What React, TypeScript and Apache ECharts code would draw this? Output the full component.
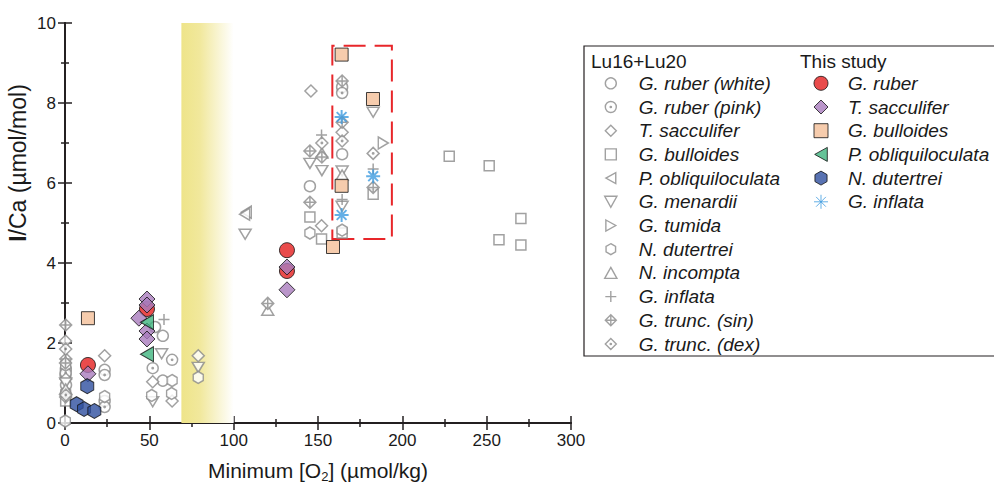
import React, { useEffect, useRef } from 'react';
import * as echarts from 'echarts';

const FONT = '"Liberation Sans", Arial, Helvetica, sans-serif';
const GRAY = '#8a8a8a';
const AXIS = '#231f20';

// ---- symbols ----
const P_DIAMOND = 'path://M5,0L10,5L5,10L0,5Z';
const P_SQUARE = 'path://M0,0L10,0L10,10L0,10Z';
const P_TRI_LEFT = 'path://M0,5L9,0L9,10Z';
const P_TRI_DOWN = 'path://M0,0L10,0L5,9Z';
const P_TRI_UP = 'path://M5,0L10,9L0,9Z';
const P_TRI_RIGHT = 'path://M0,0L9,5L0,10Z';
const P_HEX = 'path://M5,0L9.33,2.5L9.33,7.5L5,10L0.67,7.5L0.67,2.5Z';
const P_PLUS = 'path://M5,0L5,10M0,5L10,5';
const P_DIAMOND_CROSS = 'path://M5,0L10,5L5,10L0,5ZM5,0L5,10M0,5L10,5';
const P_DIAMOND_DOT = 'path://M5,0L10,5L5,10L0,5ZM4.4,5A0.6,0.6,0,1,0,5.6,5A0.6,0.6,0,1,0,4.4,5Z';
const P_CIRCLE_DOT = 'path://M0,5A5,5,0,1,0,10,5A5,5,0,1,0,0,5ZM4.4,5A0.6,0.6,0,1,0,5.6,5A0.6,0.6,0,1,0,4.4,5Z';
const P_ASTER = 'path://M5,0L5,10M0,5L10,5M1.5,1.5L8.5,8.5M1.5,8.5L8.5,1.5';

// ---- axis ticks ----
const X_MIN = 0, X_MAX = 300, X_STEP = 50;
const Y_MIN = 0, Y_MAX = 10, Y_STEP = 2;

// ---- Lu16+Lu20 data [min O2, I/Ca] ----
const luRuberWhite: number[][] = [[0.5,1.35],[0.3,1.2],[0.6,0.95],[23.5,1.33],[23.5,0.55],[53.4,2.4],[58,2.18],[58,1.06],[145.2,5.92],[164.3,8.4],[164.3,6.72]];
const luRuberPink: number[][] = [[0.4,1.25],[23.5,1.2],[23.5,0.4],[63.5,1.58],[52,1.37],[164.3,8.25]];
const luSacculifer: number[][] = [[0.3,2.05],[0.5,1.1],[23.5,1.68],[52,1.03],[63.5,0.55],[79,1.68],[145.8,8.3],[152.1,4.93],[164.3,7.27]];
const luBulloides: number[][] = [[0.4,0.55],[145.2,5.15],[152.1,4.6],[164.3,4.75],[182.7,5.72],[227.8,6.67],[251.5,6.43],[270.3,5.11],[257.3,4.58],[270.3,4.45]];
const luObliq: number[][] = [[107.5,5.27],[106.5,5.22]];
const luMenardii: number[][] = [[0.4,1.0],[57.3,1.73],[52,0.53],[79,1.39],[106.8,4.72],[145.2,6.49],[152.3,6.31],[164.3,6.3],[164.3,5.42],[182.7,7.77]];
const luTumida: number[][] = [[188.7,7.0]];
const luDutertrei: number[][] = [[0.4,1.45],[0.4,0.75],[0.2,0.05],[23.5,0.66],[51.4,0.69],[63.5,1.06],[63.2,0.74],[79,1.14],[145.2,4.75],[164.3,4.82]];
const luIncompta: number[][] = [[0.4,0.85],[120.2,2.82],[164.3,6.2],[152.3,6.75]];
const luInflata: number[][] = [[58.7,2.59],[152.1,7.2],[164.3,5.59],[182.7,6.35]];
const luTruncSin: number[][] = [[0.4,2.45],[0.5,1.6],[0.3,1.5],[0.4,0.65],[120.2,2.99],[145.2,6.8],[152.3,6.65],[145.2,5.52],[164.3,8.55],[164.3,7.52],[182.7,5.89]];
const luTruncDex: number[][] = [[0.4,1.85],[0.5,0.7],[152.3,7.0],[164.3,7.05],[182.7,6.74]];

// ---- This study ----
const tsRuber: number[][] = [[13.6,1.45],[48.6,2.85],[131.6,4.32],[131.6,3.8]];
const tsSacculifer: number[][] = [[13.6,1.23],[48.6,3.1],[48.6,2.95],[43.8,2.62],[48.6,2.3],[48.6,2.1],[131.6,3.9],[131.6,3.33]];
const tsBulloides: number[][] = [[13.6,2.62],[164,9.21],[164,5.93],[182.6,8.1],[158.9,4.4]];
const tsObliq: number[][] = [[48.6,2.52],[48.6,1.72]];
const tsDutertrei: number[][] = [[13.2,0.92],[6.9,0.47],[11.3,0.35],[17.4,0.3]];
const tsInflata: number[][] = [[164,7.65],[164,5.2],[182.7,6.17]];

// ---- shaded band and highlighted box ----
const bandX = [69, 100];
const boxX = [158.5, 193.8];
const boxY = [4.6, 9.43];

const lu = (name: string, data: number[][], symbol: string, size: number | number[]) => ({
  name, type: 'scatter', data, symbol, symbolSize: size, z: 3,
  itemStyle: { color: '#ffffff', borderColor: GRAY, borderWidth: 1.5 },
});
const ts = (name: string, data: number[][], symbol: string, size: number | number[], color: string, border = '#111111', bw = 1) => ({
  name, type: 'scatter', data, symbol, symbolSize: size, z: 5,
  itemStyle: { color, borderColor: border, borderWidth: bw },
});

export default function App() {
  const ref = useRef<HTMLDivElement>(null);
  useEffect(() => {
    if (!ref.current) return;
    const chart = echarts.init(ref.current, undefined, { renderer: 'svg' });
    const axisCommon = {
      type: 'value',
      axisLine: { show: true, lineStyle: { color: AXIS, width: 1.8 } },
      axisTick: { show: true, inside: true, length: 7, lineStyle: { color: AXIS, width: 1.5 } },
      minorTick: { show: true, splitNumber: 2, length: 4, lineStyle: { color: AXIS, width: 1.5 } },
      splitLine: { show: false },
    };
    const labelStyle = { fontFamily: FONT, fontSize: 17, color: '#1a1a1a' };
    const leftNames = ['G. ruber (white)', 'G. ruber (pink)', 'T. sacculifer', 'G. bulloides', 'P. obliquiloculata', 'G. menardii', 'G. tumida', 'N. dutertrei', 'N. incompta', 'G. inflata', 'G. trunc. (sin)', 'G. trunc. (dex)'];
    const rightNames = ['G. ruber', 'T. sacculifer*', 'G. bulloides*', 'P. obliquiloculata*', 'N. dutertrei*', 'G. inflata*'];
    const legendText = { fontFamily: FONT, fontSize: 19, fontStyle: 'italic', color: '#1a1a1a', lineHeight: 20 };
    chart.setOption({
      animation: false,
      grid: { left: 65, width: 506, top: 23, height: 405 },
      xAxis: [
        {
          ...axisCommon, position: 'bottom', min: X_MIN, max: X_MAX, interval: X_STEP,
          axisLabel: { ...labelStyle, margin: 9 },
          name: '{n|Minimum [O}{s|2}{n|] (µmol/kg)}', nameLocation: 'middle', nameGap: 34,
          nameTextStyle: {
            fontFamily: FONT, color: '#1a1a1a', fontSize: 21,
            rich: {
              n: { fontFamily: FONT, fontSize: 21, color: '#1a1a1a', lineHeight: 26, verticalAlign: 'middle' },
              s: { fontFamily: FONT, fontSize: 13, color: '#1a1a1a', lineHeight: 13, verticalAlign: 'bottom' },
            },
          },
        },
        { ...axisCommon, position: 'top', min: X_MIN, max: X_MAX, interval: X_STEP, axisLabel: { show: false } },
      ],
      yAxis: [
        { ...axisCommon, position: 'left', min: Y_MIN, max: Y_MAX, interval: Y_STEP, axisLabel: { ...labelStyle, margin: 9 } },
        { ...axisCommon, position: 'right', min: Y_MIN, max: Y_MAX, interval: Y_STEP, axisLabel: { show: false } },
      ],
      legend: [
        {
          data: leftNames, orient: 'vertical', left: 604, top: 73.3, padding: 0,
          itemWidth: 46, itemHeight: 11, itemGap: 3.7, selectedMode: false,
          textStyle: legendText, itemStyle: { borderWidth: 1.4 },
        },
        {
          data: rightNames, orient: 'vertical', left: 813.5, top: 73.3, padding: 0,
          itemWidth: 44, itemHeight: 14, itemGap: 3.7, selectedMode: false,
          textStyle: legendText, itemStyle: { borderWidth: 1 },
          formatter: (n: string) => n.replace('*', ''),
        },
      ],
      graphic: [
        { type: 'rect', shape: { x: 584, y: 46, width: 430, height: 310 }, style: { fill: 'none', stroke: AXIS, lineWidth: 1.2 }, z: 10 },
        { type: 'text', x: 591, y: 61, style: { text: 'Lu16+Lu20', fontFamily: FONT, fontSize: 19, fill: '#1a1a1a', verticalAlign: 'middle' }, z: 10 },
        { type: 'text', x: 800, y: 61, style: { text: 'This study', fontFamily: FONT, fontSize: 19, fill: '#1a1a1a', verticalAlign: 'middle' }, z: 10 },
        {
          type: 'text', x: 18, y: 163, rotation: Math.PI / 2, z: 10,
          style: {
            text: '{b|I}/Ca (µmol/mol)', fontFamily: FONT, fontSize: 23, fill: '#1a1a1a', align: 'center', verticalAlign: 'middle',
            rich: { b: { fontFamily: FONT, fontSize: 23, fontWeight: 'bold', fill: '#1a1a1a' } },
          },
        },
      ],
      series: [
        {
          name: 'bands', type: 'scatter', data: [], z: 1, silent: true,
          markArea: {
            silent: true,
            data: [
              [
                {
                  xAxis: bandX[0], yAxis: Y_MIN,
                  itemStyle: {
                    color: { type: 'linear', x: 0, y: 0, x2: 1, y2: 0, colorStops: [
                      { offset: 0, color: '#eee489' }, { offset: 0.35, color: '#f1e89c' }, { offset: 1, color: '#ffffff' },
                    ] },
                  },
                },
                { xAxis: bandX[1], yAxis: Y_MAX },
              ],
              [
                {
                  xAxis: boxX[0], yAxis: boxY[0],
                  itemStyle: { color: 'rgba(0,0,0,0)', borderColor: '#e8262a', borderWidth: 2, borderType: [22, 9] },
                },
                { xAxis: boxX[1], yAxis: boxY[1] },
              ],
            ],
          },
        },
        lu('G. ruber (white)', luRuberWhite, 'circle', 11),
        lu('G. ruber (pink)', luRuberPink, P_CIRCLE_DOT, 11),
        lu('T. sacculifer', luSacculifer, P_DIAMOND, 12),
        lu('G. bulloides', luBulloides, P_SQUARE, 10),
        lu('P. obliquiloculata', luObliq, P_TRI_LEFT, [10, 12]),
        lu('G. menardii', luMenardii, P_TRI_DOWN, [12, 10]),
        lu('G. tumida', luTumida, P_TRI_RIGHT, [10, 12]),
        lu('N. dutertrei', luDutertrei, P_HEX, [10, 12]),
        lu('N. incompta', luIncompta, P_TRI_UP, [12, 10]),
        lu('G. inflata', luInflata, P_PLUS, 11),
        lu('G. trunc. (sin)', luTruncSin, P_DIAMOND_CROSS, 12),
        lu('G. trunc. (dex)', luTruncDex, P_DIAMOND_DOT, 12),
        ts('G. ruber', tsRuber, 'circle', 15, '#e41e1e'),
        ts('T. sacculifer*', tsSacculifer, P_DIAMOND, 16, '#a97cbd'),
        ts('G. bulloides*', tsBulloides, P_SQUARE, 13, '#f4bf98'),
        ts('P. obliquiloculata*', tsObliq, P_TRI_LEFT, [13, 15], '#3fb47e'),
        ts('N. dutertrei*', tsDutertrei, P_HEX, [13, 15], '#2e4f9f'),
        ts('G. inflata*', tsInflata, P_ASTER, 14, '#3d9be0', '#3d9be0', 2),
      ],
    });
    return () => chart.dispose();
  }, []);
  return <div ref={ref} style={{ width: 994, height: 488, position: 'absolute', left: 0, top: 0 }} />;
}
